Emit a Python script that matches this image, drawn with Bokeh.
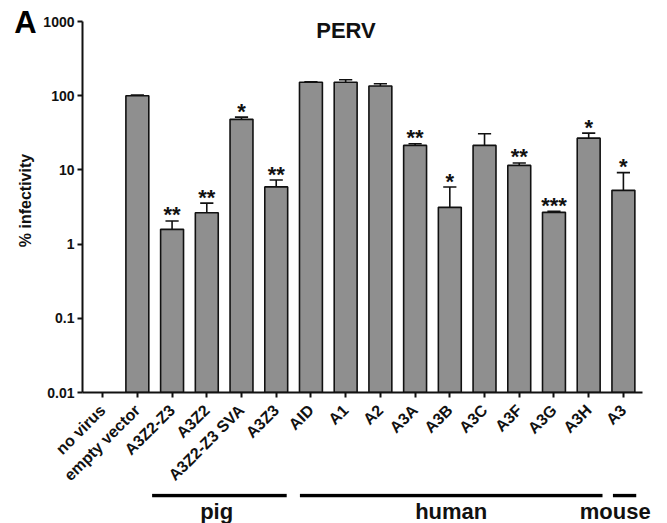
import math
from bokeh.plotting import figure
from bokeh.layouts import row, column
from bokeh.models import Range1d, FixedTicker, CustomJSTickFormatter, ColumnDataSource
from bokeh.core.properties import value
from bokeh.embed import file_html
from bokeh.resources import INLINE

categories = ["no virus", "empty vector", "A3Z2-Z3", "A3Z2", "A3Z2-Z3 SVA", "A3Z3",
              "AID", "A1", "A2", "A3A", "A3B", "A3C", "A3F", "A3G", "A3H", "A3"]
infectivity = [None, 100, 1.58, 2.65, 48, 5.9, 152, 152, 135, 21.4, 3.13, 21.4, 11.5, 2.68, 26.8, 5.3]
err_upper = [None, 102, 2.05, 3.57, 51.4, 7.3, 154, 164, 145, 22.5, 5.87, 30.7, 12.4, 2.76, 31.3, 9.2]
stars = ["", "", "**", "**", "*", "**", "", "", "", "**", "*", "", "**", "***", "*", "*"]
y_ticks = [0.01, 0.1, 1, 10, 100, 1000]
groups = ["pig", "human", "mouse"]
group_start = [2, 6, 15]
group_end = [5, 14, 15]

FONT = "Liberation Sans"
INK = "#111111"
BOTTOM = 0.01
X0, X1 = -0.58, 15.55

# ---------- main plot ----------
MAIN_W, MAIN_H = 627, 493
p = figure(width=MAIN_W, height=MAIN_H, y_axis_type="log", output_backend="svg",
           toolbar_location=None, x_range=Range1d(X0, X1), y_range=Range1d(0.01, 1000),
           min_border_left=41, min_border_right=25, min_border_top=21,
           min_border_bottom=MAIN_H - 392)
p.outline_line_color = None
p.xgrid.visible = False
p.ygrid.visible = False

idx = [i for i, v in enumerate(infectivity) if v is not None]
src = ColumnDataSource(dict(
    x=idx,
    top=[infectivity[i] for i in idx],
    up=[err_upper[i] for i in idx],
    bottom=[BOTTOM] * len(idx),
    xl=[i - 0.19 for i in idx],
    xr=[i + 0.19 for i in idx],
))
p.vbar(x="x", top="top", bottom="bottom", width=0.66, source=src,
       fill_color="#8f8f8f", line_color=INK, line_width=1.6)
p.segment(x0="x", y0="top", x1="x", y1="up", source=src, line_color=INK, line_width=1.6)
p.segment(x0="xl", y0="up", x1="xr", y1="up", source=src, line_color=INK, line_width=1.6)

sidx = [i for i in idx if stars[i]]
ssrc = ColumnDataSource(dict(x=sidx, y=[err_upper[i] for i in sidx], t=[stars[i] for i in sidx]))
p.text(x="x", y="y", text="t", source=ssrc, text_align="center", text_baseline="alphabetic",
       y_offset=-6, text_font=value(FONT), text_font_style="bold", text_font_size="22px",
       text_color=INK)

PXU = 561 / (X1 - X0)
def xd(px):
    return X0 + (px - 81) / PXU
def yd(py):
    return 10 ** (3 - (py - 21) / 74.26)
p.text(x=[xd(345)], y=[yd(30)], text=["PERV"], text_align="center", text_baseline="middle",
       text_font=value(FONT), text_font_style="bold", text_font_size="22px", text_color=INK)

xa = p.xaxis[0]
xa.ticker = FixedTicker(ticks=list(range(len(categories))), minor_ticks=[])
xa.major_label_overrides = {i: c for i, c in enumerate(categories)}
xa.major_label_orientation = math.pi / 4
xa.major_label_text_font = FONT
xa.major_label_text_font_style = "bold"
xa.major_label_text_font_size = "16px"
xa.major_label_text_color = INK
xa.axis_line_width = 2
xa.axis_line_color = INK
xa.major_tick_line_width = 2
xa.major_tick_line_color = INK
xa.major_tick_out = 5
xa.major_tick_in = 0
xa.minor_tick_line_color = None
xa.major_label_standoff = 10

ya = p.yaxis[0]
ya.ticker = FixedTicker(ticks=y_ticks, minor_ticks=[])
ya.formatter = CustomJSTickFormatter(code="return tick.toString();")
ya.major_label_text_font = FONT
ya.major_label_text_font_style = "bold"
ya.major_label_text_font_size = "14px"
ya.major_label_text_color = INK
ya.axis_line_width = 2
ya.axis_line_color = INK
ya.major_tick_line_width = 2
ya.major_tick_line_color = INK
ya.major_tick_out = 5
ya.major_tick_in = 0
ya.minor_tick_line_color = None
ya.major_label_standoff = 3

# ---------- left strip: panel letter and y-axis title ----------
left = figure(width=40, height=523, output_backend="svg", toolbar_location=None,
              x_range=Range1d(0, 40), y_range=Range1d(523, 0),
              x_axis_location=None, y_axis_location=None, min_border=0)
left.outline_line_color = None
left.xgrid.visible = False
left.ygrid.visible = False
left.text(x=[25], y=[22], text=["A"], text_align="center", text_baseline="middle",
          text_font=value(FONT), text_font_style="bold", text_font_size="31px", text_color="#000000")
left.text(x=[25], y=[200], text=["% infectivity"], angle=math.pi / 2, text_align="center",
          text_baseline="middle", text_font=value(FONT), text_font_style="bold",
          text_font_size="16px", text_color=INK)

# ---------- bottom strip: species groups ----------
BOT_H = 523 - MAIN_H
bot = figure(width=MAIN_W, height=BOT_H, output_backend="svg", toolbar_location=None,
             x_range=Range1d(X0 - 41 / PXU, X0 + (MAIN_W - 41) / PXU), y_range=Range1d(BOT_H, 0),
             x_axis_location=None, y_axis_location=None, min_border=0)
bot.outline_line_color = None
bot.xgrid.visible = False
bot.ygrid.visible = False
pads_l = [0.55, 0.3, 0.3]
pads_r = [0.32, 0.4, 0.37]
text_shift = [-0.08, 0.0, -0.27]
gx0 = [s - pl for s, pl in zip(group_start, pads_l)]
gx1 = [e + pr for e, pr in zip(group_end, pads_r)]
gsrc = ColumnDataSource(dict(x0=gx0, x1=gx1,
                             xm=[(a + b) / 2 + d for a, b, d in zip(gx0, gx1, text_shift)],
                             yl=[495 - MAIN_H] * 3, yt=[511 - MAIN_H] * 3, t=groups))
bot.segment(x0="x0", y0="yl", x1="x1", y1="yl", source=gsrc, line_width=3.5, line_color="#000000")
bot.text(x="xm", y="yt", text="t", source=gsrc, text_align="center", text_baseline="middle",
         text_font=value(FONT), text_font_style="bold", text_font_size="22px", text_color=INK)

layout = row(column(left, spacing=0), column(row(p, spacing=0), bot, spacing=0), spacing=0)
open("out.html", "w").write(file_html(layout, INLINE))
